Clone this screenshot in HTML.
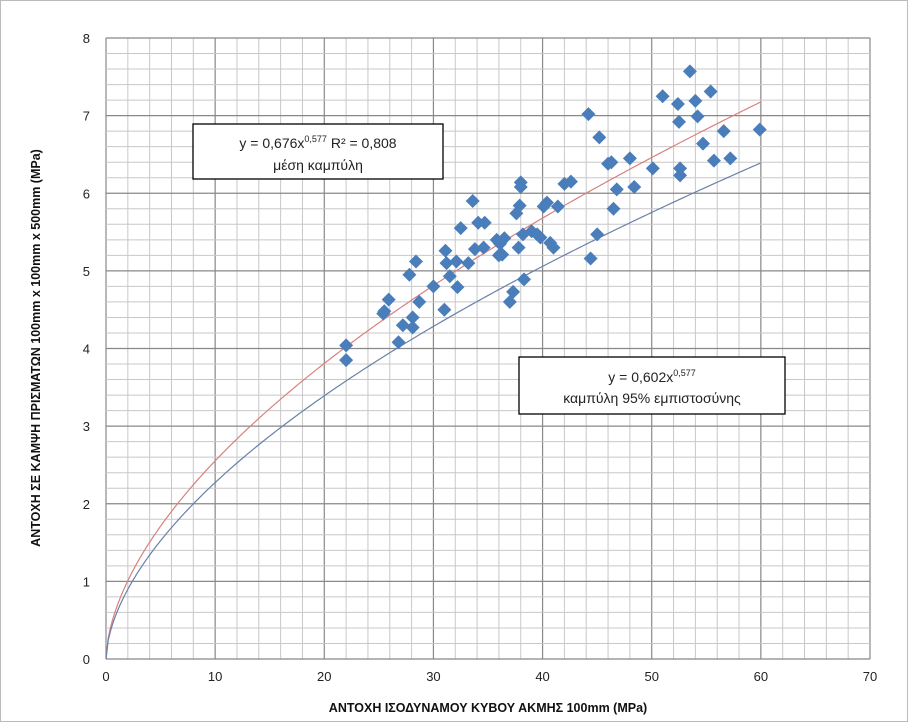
<!DOCTYPE html>
<html><head><meta charset="utf-8"><style>
body{margin:0;background:#fff;width:908px;height:722px;overflow:hidden;font-family:"Liberation Sans",sans-serif}
</style></head><body>
<svg id="chart" width="908" height="722" xmlns="http://www.w3.org/2000/svg" font-family="Liberation Sans, DejaVu Sans, sans-serif">
<rect x="0.5" y="0.5" width="907" height="721" fill="#fff" stroke="#bbb"/>
<g id="grid"></g><g id="axes"></g><g id="curves"></g><g id="points"></g>
<text x="488" y="712" text-anchor="middle" font-size="12.5" font-weight="bold" fill="#111">ΑΝΤΟΧΗ ΙΣΟΔΥΝΑΜΟΥ ΚΥΒΟΥ ΑΚΜΗΣ 100mm (MPa)</text>
<text transform="translate(40,348) rotate(-90)" text-anchor="middle" font-size="12.5" font-weight="bold" fill="#111">ΑΝΤΟΧΗ ΣΕ ΚΑΜΨΗ ΠΡΙΣΜΑΤΩΝ 100mm x 100mm x 500mm (MPa)</text>
<g>
<rect x="193" y="124" width="250" height="55" fill="#fff" stroke="#000" stroke-width="1.3"/>
<text x="318" y="148" text-anchor="middle" font-size="14" fill="#222">y = 0,676x<tspan font-size="9" dy="-6">0,577</tspan><tspan dy="6"> R² = 0,808</tspan></text>
<text x="318" y="170" text-anchor="middle" font-size="14" fill="#222">μέση καμπύλη</text>
</g>
<g>
<rect x="519" y="357" width="266" height="57" fill="#fff" stroke="#000" stroke-width="1.3"/>
<text x="652" y="382" text-anchor="middle" font-size="14" fill="#222">y = 0,602x<tspan font-size="9" dy="-6">0,577</tspan></text>
<text x="652" y="403" text-anchor="middle" font-size="14" fill="#222">καμπύλη 95% εμπιστοσύνης</text>
</g>
</svg>
<script>
const xTicks=[0,10,20,30,40,50,60,70];
const yTicks=[0,1,2,3,4,5,6,7,8];
const meanCoef=0.676, confCoef=0.602, expo=0.577, curveMax=60;
const xs=[22,22,25.4,25.5,25.9,26.8,27.2,27.8,28.1,28.1,28.4,28.7,30,31,31.1,31.2,31.5,32.1,32.2,32.5,33.2,33.6,33.8,34.1,34.7,34.6,35.8,36,36.1,36.3,36.5,37,37.3,37.6,37.8,37.9,38,38,38.3,38.2,39,39.5,39.8,40.1,40.4,40.7,41,41.4,42,42.6,44.2,44.4,45,45.2,46,46.3,46.5,46.8,48,48.4,50.1,51,52.4,52.5,52.6,52.6,53.5,54,54.2,54.7,55.4,55.7,56.6,57.2,59.9];
const ys=[4.04,3.85,4.45,4.48,4.63,4.08,4.3,4.95,4.27,4.4,5.12,4.6,4.8,4.5,5.26,5.1,4.93,5.12,4.79,5.55,5.1,5.9,5.28,5.62,5.62,5.3,5.4,5.2,5.35,5.21,5.42,4.6,4.73,5.74,5.3,5.84,6.08,6.14,4.89,5.47,5.51,5.47,5.43,5.83,5.88,5.36,5.3,5.83,6.12,6.15,7.02,5.16,5.47,6.72,6.38,6.4,5.8,6.05,6.45,6.08,6.32,7.25,7.15,6.92,6.32,6.23,7.57,7.19,6.99,6.64,7.31,6.42,6.8,6.45,6.82];
const NS='http://www.w3.org/2000/svg';
const X0=106,X1=870,Y0=659,Y1=38;
const sx=v=>X0+(X1-X0)*v/70, sy=v=>Y0-(Y0-Y1)*v/8;
function mk(t,a,p){const e=document.createElementNS(NS,t);for(const k in a)e.setAttribute(k,a[k]);document.getElementById(p).appendChild(e);return e;}
for(let v=0;v<=70;v+=2){const l=mk('line',{x1:sx(v),x2:sx(v),y1:Y1,y2:Y0,stroke:v%10===0?'#888':'#c8c8c8','stroke-width':v%10===0?1.2:1},'grid');

}
for(let i=0;i<=40;i++){const v=i*0.2;const l=mk('line',{x1:X0,x2:X1,y1:sy(v),y2:sy(v),stroke:i%5===0?'#888':'#c8c8c8','stroke-width':i%5===0?1.2:1},'grid');

}
xTicks.forEach(v=>{const t=mk('text',{x:sx(v),y:Y0+22,'text-anchor':'middle','font-size':13,fill:'#222'},'axes');t.textContent=v;

});
yTicks.forEach(v=>{const t=mk('text',{x:X0-16,y:sy(v)+5,'text-anchor':'end','font-size':13,fill:'#222'},'axes');t.textContent=v;

});
function curve(c,col,name){let d='';for(let i=0;i<=300;i++){const x=curveMax*i/300;d+=(i?'L':'M')+sx(x).toFixed(2)+','+sy(c*Math.pow(x,expo)).toFixed(2);}
const p=mk('path',{d:d,fill:'none',stroke:col,'stroke-width':1.2},'curves');

}
curve(meanCoef,'#d98080','mean-curve');
curve(confCoef,'#6a80a8','confidence-curve');
xs.forEach((x,i)=>{const cx=sx(x),cy=sy(ys[i]),r=7;
const p=mk('polygon',{points:`${cx},${cy-r} ${cx+r},${cy} ${cx},${cy+r} ${cx-r},${cy}`,fill:'#4a7ebb'},'points');

});
</script>
</body></html>
